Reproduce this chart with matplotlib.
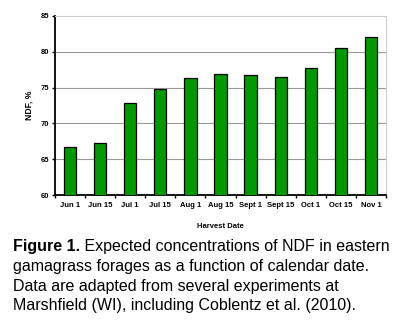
import matplotlib
matplotlib.use("Agg")
import matplotlib.pyplot as plt
import numpy as np
from matplotlib.ticker import FixedLocator

dates = ["Jun 1", "Jun 15", "Jul 1", "Jul 15", "Aug 1", "Aug 15",
         "Sept 1", "Sept 15", "Oct 1", "Oct 15", "Nov 1"]
ndf = [66.75, 67.2, 72.8, 74.75, 76.3, 76.85, 76.7, 76.5, 77.65, 80.5, 82.0]
yticks = [60, 65, 70, 75, 80, 85]

caption_bold = "Figure 1."
caption_rest = [" Expected concentrations of NDF in eastern",
                "gamagrass forages as a function of calendar date.",
                "Data are adapted from several experiments at",
                "Marshfield (WI), including Coblentz et al. (2010)."]

plt.rcParams['font.family'] = ['Liberation Sans', 'DejaVu Sans']

fig = plt.figure(figsize=(4, 3.28), dpi=100)
ax = fig.add_axes([0.1375, 0.405, 0.8275, 0.547])

x = np.arange(len(dates))
ax.bar(x, ndf, width=0.41, color="#009900", edgecolor="black", linewidth=0.9, zorder=3)

ax.set_xlim(-0.5, len(dates) - 0.5)
ax.set_ylim(60, 85)
ax.set_yticks(yticks)
ax.set_yticklabels([str(v) for v in yticks], fontsize=5.5, fontweight="bold")
ax.set_xticks(x)
ax.set_xticklabels(dates, fontsize=5.5, fontweight="bold")
ax.tick_params(axis="x", which="major", length=0, pad=5)
ax.xaxis.set_minor_locator(FixedLocator(np.arange(-0.5, len(dates), 1.0)))
ax.tick_params(axis="x", which="minor", length=2.5, width=1, direction="out")
ax.tick_params(axis="y", length=2.5, width=1, direction="out", pad=2)

ax.yaxis.grid(True, color="#999999", linewidth=0.8, zorder=0)
ax.spines["left"].set_linewidth(1.3)
ax.spines["bottom"].set_linewidth(1.3)
ax.spines["top"].set_color("#cccccc")
ax.spines["right"].set_color("#cccccc")
ax.spines["top"].set_linewidth(0.8)
ax.spines["right"].set_linewidth(0.8)

ax.set_ylabel("NDF, %", fontsize=6.2, fontweight="bold", labelpad=5)
ax.set_xlabel("Harvest Date", fontsize=5.5, fontweight="bold", labelpad=10)

# caption: bold "Figure 1." followed by regular text
fs = 11.5
t0 = fig.text(13 / 400, 1 - 247 / 328, caption_bold, fontsize=fs, fontweight="bold",
              va="center", ha="left")
fig.canvas.draw()
bb = t0.get_window_extent()
fig.text(bb.x1 / fig.bbox.width, 1 - 247 / 328, caption_rest[0], fontsize=fs,
         va="center", ha="left")
for i, line in enumerate(caption_rest[1:]):
    fig.text(13 / 400, 1 - (266.5 + i * 19.5) / 328, line, fontsize=fs,
             va="center", ha="left")

fig.savefig("out.png", dpi=100)
